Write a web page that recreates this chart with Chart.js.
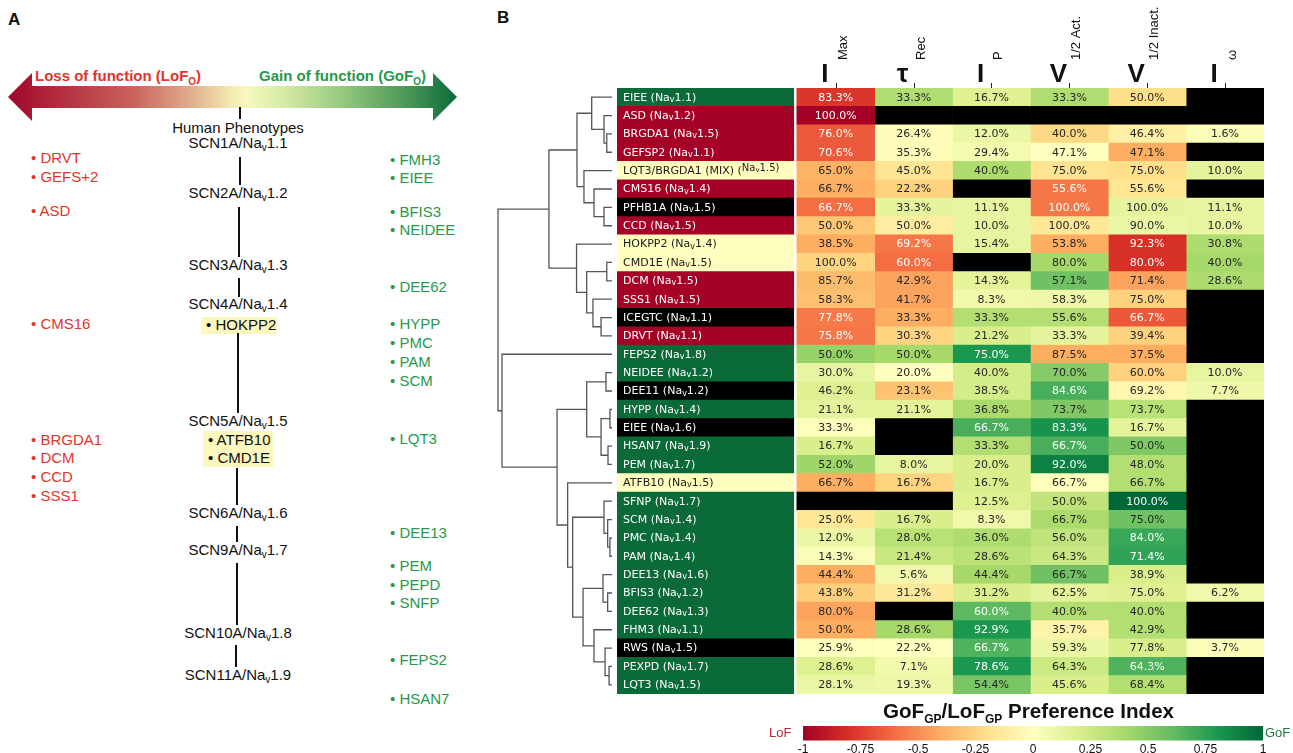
<!DOCTYPE html>
<html>
<head>
<meta charset="utf-8">
<script src="https://cdn.jsdelivr.net/npm/chart.js@4.4.0/dist/chart.umd.min.js"></script>
<style>
  body { margin: 0; background: #fff; width: 1293px; height: 753px; overflow: hidden; position: relative;
         font-family: "Liberation Sans", Arial, sans-serif; color: #111; }
  .t { position: absolute; font-size: 15px; line-height: 18px; height: 18px; white-space: nowrap; }
  .sv { font-size: 10px; position: relative; top: 3px; }
  .so { font-size: 10px; position: relative; top: 4px; }
  .loss { color: #e3342b; }
  .gain { color: #26994a; }
  .seg { position: absolute; width: 2px; background: #111; }
  .box { position: absolute; background: #fbf7bd; }
</style>
</head>
<body>

<div class="t" style="left:8px;top:11px;font-weight:bold;font-size:17px;">A</div>
<div class="t" style="left:497px;top:9px;font-weight:bold;font-size:17px;">B</div>

<div style="position:absolute;left:8px;top:73px;width:449px;height:48px;
  clip-path:polygon(0 24px,24px 0,24px 13px,425px 13px,425px 0,449px 24px,425px 48px,425px 35px,24px 35px,24px 48px);
  background:linear-gradient(to right,#a0062c 0%,#b3303f 12%,#c9645d 28%,#e0a98a 40%,#f3e5ad 49%,#f8f9bf 53%,#d3e9a4 62%,#98ca80 74%,#4f9a5b 88%,#0b6a3a 100%);"></div>
<div class="t loss" style="left:35px;top:67px;font-weight:bold;">Loss of function (LoF<span class="so">O</span>)</div>
<div class="t gain" style="left:259px;top:67px;font-weight:bold;">Gain of function (GoF<span class="so">O</span>)</div>
<div class="seg" style="left:239px;top:107px;height:12px;"></div>
<div class="t" style="left:138px;width:200px;text-align:center;top:119px;">Human Phenotypes</div>

<div class="box" style="left:201px;top:317px;width:76px;height:17px;"></div>
<div class="box" style="left:203px;top:431px;width:70px;height:36px;"></div>

<div style="position:absolute;left:490px;top:0;width:803px;height:700px;">
  <canvas id="heat" width="803" height="700" style="width:803px;height:700px;"></canvas>
</div>

<div class="t" style="left:883px;top:699px;font-size:20.6px;font-weight:bold;line-height:24px;height:24px;">GoF<span style="font-size:12px;position:relative;top:5px;">GP</span>/LoF<span style="font-size:12px;position:relative;top:5px;">GP</span> Preference Index</div>
<div class="t" style="left:769px;top:724px;font-size:13px;color:#c0282e;">LoF</div>
<div class="t" style="left:1265px;top:724px;font-size:13px;color:#1f7a3f;">GoF</div>
<div style="position:absolute;left:760px;top:713px;width:533px;height:42px;">
  <canvas id="cbar" width="533" height="42" style="width:533px;height:42px;"></canvas>
</div>

<script>
// ---- panel B data ----
const rowNames = ['EIEE', 'ASD', 'BRGDA1', 'GEFSP2', 'LQT3/BRGDA1 (MIX)', 'CMS16', 'PFHB1A', 'CCD',
  'HOKPP2', 'CMD1E', 'DCM', 'SSS1', 'ICEGTC', 'DRVT', 'FEPS2', 'NEIDEE', 'DEE11', 'HYPP', 'EIEE',
  'HSAN7', 'PEM', 'ATFB10', 'SFNP', 'SCM', 'PMC', 'PAM', 'DEE13', 'BFIS3', 'DEE62', 'FHM3', 'RWS',
  'PEXPD', 'LQT3'];
const rowChannels = ['1.1', '1.2', '1.5', '1.1', '1.5', '1.4', '1.5', '1.5', '1.4', '1.5', '1.5', '1.5',
  '1.1', '1.1', '1.8', '1.2', '1.2', '1.4', '1.6', '1.9', '1.7', '1.5', '1.7', '1.4', '1.4', '1.4',
  '1.6', '1.2', '1.3', '1.1', '1.5', '1.7', '1.5'];
// G = gain, L = loss, M = mixed, U = unclassified
const rowClass = ['G', 'L', 'L', 'L', 'M', 'L', 'U', 'L', 'M', 'M', 'L', 'L', 'U', 'L', 'G', 'G', 'U',
  'G', 'U', 'G', 'G', 'M', 'G', 'G', 'G', 'G', 'G', 'G', 'G', 'G', 'U', 'G', 'G'];

const headBig = ['I', 'τ', 'I', 'V', 'V', 'I'];
const headSub = ['Max', 'Rec', 'P', '1/2 Act.', '1/2 Inact.', 'ω'];

// percentages written in the cells (null = no data, black)
const pctImax = ['83.3', '100.0', '76.0', '70.6', '65.0', '66.7', '66.7', '50.0', '38.5', '100.0', '85.7',
  '58.3', '77.8', '75.8', '50.0', '30.0', '46.2', '21.1', '33.3', '16.7', '52.0', '66.7', null, '25.0',
  '12.0', '14.3', '44.4', '43.8', '80.0', '50.0', '25.9', '28.6', '28.1'];
const pctTrec = ['33.3', null, '26.4', '35.3', '45.0', '22.2', '33.3', '50.0', '69.2', '60.0', '42.9',
  '41.7', '33.3', '30.3', '50.0', '20.0', '23.1', '21.1', null, null, '8.0', '16.7', null, '16.7', '28.0',
  '21.4', '5.6', '31.2', null, '28.6', '22.2', '7.1', '19.3'];
const pctIp = ['16.7', null, '12.0', '29.4', '40.0', null, '11.1', '10.0', '15.4', null, '14.3', '8.3',
  '33.3', '21.2', '75.0', '40.0', '38.5', '36.8', '66.7', '33.3', '20.0', '16.7', '12.5', '8.3', '36.0',
  '28.6', '44.4', '31.2', '60.0', '92.9', '66.7', '78.6', '54.4'];
const pctVact = ['33.3', null, '40.0', '47.1', '75.0', '55.6', '100.0', '100.0', '53.8', '80.0', '57.1',
  '58.3', '55.6', '33.3', '87.5', '70.0', '84.6', '73.7', '83.3', '66.7', '92.0', '66.7', '50.0', '66.7',
  '56.0', '64.3', '66.7', '62.5', '40.0', '35.7', '59.3', '64.3', '45.6'];
const pctVinact = ['50.0', null, '46.4', '47.1', '75.0', '55.6', '100.0', '90.0', '92.3', '80.0', '71.4',
  '75.0', '66.7', '39.4', '37.5', '60.0', '69.2', '73.7', '16.7', '50.0', '48.0', '66.7', '100.0', '75.0',
  '84.0', '71.4', '38.9', '75.0', '40.0', '42.9', '77.8', '64.3', '68.4'];
const pctIw = [null, null, '1.6', null, '10.0', null, '11.1', '10.0', '30.8', '40.0', '28.6', null, null,
  null, null, '10.0', '7.7', null, null, null, null, null, null, null, null, null, null, '6.2', null,
  null, '3.7', null, null];

// GoF/LoF preference index per cell (-1 .. 1)
const idxImax = [-0.78, -1.0, -0.66, -0.66, -0.38, -0.4, -0.6, -0.3, -0.4, -0.25, -0.35, -0.33, -0.56,
  -0.57, 0.45, 0.12, 0.17, 0.14, 0.01, 0.2, 0.42, -0.4, null, -0.15, 0.1, 0.03, -0.4, -0.27, -0.43,
  -0.4, 0.01, 0.18, 0.1];
const idxTrec = [0.36, null, -0.02, -0.02, -0.17, -0.26, 0.14, -0.12, -0.57, -0.6, -0.43, -0.43, -0.4,
  -0.25, 0.4, 0.0, -0.32, 0.15, null, null, 0.12, -0.25, null, 0.2, 0.33, 0.26, 0.07, -0.14, null, 0.4,
  0.0, 0.07, 0.09];
const idxIp = [0.17, null, 0.1, 0.06, 0.37, null, 0.12, 0.12, 0.12, null, 0.14, 0.08, 0.35, 0.2, 0.8,
  0.22, 0.22, 0.38, 0.68, 0.35, 0.2, 0.2, 0.18, 0.08, 0.37, 0.32, 0.4, 0.2, 0.62, 0.8, 0.66, 0.8, 0.54];
const idxVact = [0.36, null, -0.23, 0.0, -0.18, -0.57, -0.57, -0.15, -0.4, 0.4, 0.57, 0.09, 0.35, 0.13,
  -0.4, 0.5, 0.68, 0.52, 0.82, 0.68, 0.9, 0.01, 0.3, 0.38, 0.3, 0.26, 0.57, 0.14, 0.35, -0.08, 0.1,
  0.25, 0.2];
const idxVinact = [-0.2, null, -0.1, -0.4, -0.2, -0.16, 0.13, 0.1, -0.8, -0.8, -0.43, -0.26, -0.67,
  -0.26, -0.4, -0.26, -0.06, 0.33, 0.14, 0.52, 0.35, 0.35, 1.0, 0.57, 0.72, 0.74, 0.2, 0.17, 0.35, 0.35,
  0.2, 0.66, 0.35];
const idxIw = [null, null, 0.03, null, 0.14, null, 0.12, 0.12, 0.37, 0.4, 0.37, null, null, null, null,
  0.12, 0.09, null, null, null, null, null, null, null, null, null, null, 0.07, null, null, 0.03, null,
  null];

// dendrogram: [left, right, height], leaves are row indices, root height = 1
const dendroTop = [[[0, [1, [2, 3, 0.046], 0.070], 0.178], [4, [5, [6, 7, 0.070], 0.158], 0.246], 0.307],
  [8, [[9, 10, 0.046], [11, [12, 13, 0.096], 0.167], 0.222], 0.311], 0.553];
const dendroBottom = [14, [[[15, 16, 0.053], [[17, 18, 0.018], [19, 20, 0.035], 0.096], 0.222],
  [21, [[22, [23, [24, 25, 0.018], 0.038], 0.070],
    [[26, [27, 28, 0.038], 0.079], [29, [30, [31, 32, 0.026], 0.061], 0.158], 0.254], 0.345], 0.389],
  0.482], 0.965];
const dendro = [dendroTop, dendroBottom, 1.0];

const cbarTicks = [-1, -0.75, -0.5, -0.25, 0, 0.25, 0.5, 0.75, 1];

// ---- panel A ----
const lossList = [['DRVT', 158], ['GEFS+2', 177], ['ASD', 211], ['CMS16', 324], ['BRGDA1', 440],
  ['DCM', 458], ['CCD', 477], ['SSS1', 496]];
const gainList = [['FMH3', 160], ['EIEE', 178], ['BFIS3', 212], ['NEIDEE', 230], ['DEE62', 287],
  ['HYPP', 324], ['PMC', 343], ['PAM', 362], ['SCM', 381], ['LQT3', 439], ['DEE13', 533], ['PEM', 566],
  ['PEPD', 585], ['SNFP', 603], ['FEPS2', 660], ['HSAN7', 699]];
const genes = [['SCN1A', '1.1', 143], ['SCN2A', '1.2', 193], ['SCN3A', '1.3', 265], ['SCN4A', '1.4', 304],
  ['SCN5A', '1.5', 421], ['SCN6A', '1.6', 513], ['SCN9A', '1.7', 550], ['SCN10A', '1.8', 633],
  ['SCN11A', '1.9', 675]];
const mixedList = [['HOKPP2', 206, 325], ['ATFB10', 208, 440], ['CMD1E', 208, 458]];
const segs = [[240, 157, 185], [239, 207, 257], [239, 278, 297], [238, 333, 413], [237, 468, 505],
  [237, 526, 542], [237, 563, 625], [236, 645, 667]];

function put(html, left, cy, cls, extra) {
  const d = document.createElement('div');
  d.className = 't ' + (cls || '');
  d.innerHTML = html;
  d.style.left = left + 'px';
  d.style.top = (cy - 9) + 'px';
  if (extra) Object.assign(d.style, extra);
  document.body.appendChild(d);
}
lossList.forEach(([n, y]) => put('• ' + n, 31, y, 'loss'));
gainList.forEach(([n, y]) => put('• ' + n, 390, y, 'gain'));
genes.forEach(([g, c, y]) => put(g + '/Na<span class="sv">v</span>' + c, 138, y, '', { width: '200px', textAlign: 'center' }));
mixedList.forEach(([n, x, y]) => put('• ' + n, x, y));
segs.forEach(([x, y0, y1]) => {
  const d = document.createElement('div');
  d.className = 'seg';
  d.style.left = (x - 1) + 'px';
  d.style.top = y0 + 'px';
  d.style.height = (y1 - y0) + 'px';
  document.body.appendChild(d);
});

// ---- colormap (RdYlGn) ----
const RDYLGN = ['#a50026', '#d73027', '#f46d43', '#fdae61', '#fee08b', '#ffffbf', '#d9ef8b', '#a6d96a',
  '#66bd63', '#1a9850', '#006837'];
function hexRgb(h) {
  return [parseInt(h.slice(1, 3), 16), parseInt(h.slice(3, 5), 16), parseInt(h.slice(5, 7), 16)];
}
function cmap(v) {
  const t = (v + 1) / 2 * 10;
  const i = Math.max(0, Math.min(9, Math.floor(t)));
  const f = t - i;
  const a = hexRgb(RDYLGN[i]), b = hexRgb(RDYLGN[i + 1]);
  return a.map((c, k) => Math.round(c + (b[k] - c) * f));
}
const rgb = c => `rgb(${c[0]},${c[1]},${c[2]})`;
function lum(c) {
  const l = c.map(x => { x /= 255; return x <= 0.03928 ? x / 12.92 : Math.pow((x + 0.055) / 1.055, 2.4); });
  return 0.2126 * l[0] + 0.7152 * l[1] + 0.0722 * l[2];
}

const idxCols = [idxImax, idxTrec, idxIp, idxVact, idxVinact, idxIw];
const pctCols = [pctImax, pctTrec, pctIp, pctVact, pctVinact, pctIw];
const classColor = { G: '#0a6a38', L: '#a50026', M: '#ffffbf', U: '#000000' };
const LABEL_X0 = -2.31, LABEL_X1 = -0.04;

const cellOpts = { barPercentage: 1, categoryPercentage: 1, grouped: false, borderWidth: 0, borderSkipped: false };

const extras = {
  id: 'extras',
  afterDatasetsDraw(chart) {
    const { ctx, chartArea, scales: { x, y } } = chart;
    ctx.save();

    // numbers in the cells
    ctx.font = '11px "DejaVu Sans"';
    ctx.textAlign = 'center';
    ctx.textBaseline = 'middle';
    idxCols.forEach((col, j) => {
      const cx = x.getPixelForValue(j + 0.5);
      col.forEach((v, i) => {
        const p = pctCols[j][i];
        if (v == null || p == null) return;
        ctx.fillStyle = lum(cmap(v)) < 0.408 ? '#ffffff' : '#262626';
        ctx.fillText(p + '%', cx, y.getPixelForValue(i) + 0.5);
      });
    });

    // row labels
    ctx.textAlign = 'left';
    rowNames.forEach((n, i) => {
      const yy = y.getPixelForValue(i) + 0.5;
      let xx = x.getPixelForValue(LABEL_X0) + 6;
      ctx.fillStyle = rowClass[i] === 'M' ? '#1a1a1a' : '#ffffff';
      ctx.font = '11px "DejaVu Sans"';
      const head = n + ' (';
      const full = ctx.measureText(head + 'Na' + rowChannels[i] + ')').width;
      const small = full > 150;
      ctx.fillText(head, xx, yy);
      xx += ctx.measureText(head).width;
      const big = small ? '10px "DejaVu Sans"' : '11px "DejaVu Sans"';
      const dy = small ? -3 : 0;
      ctx.font = big;
      ctx.fillText('Na', xx, yy + dy);
      xx += ctx.measureText('Na').width;
      ctx.font = small ? '7px "DejaVu Sans"' : '8px "DejaVu Sans"';
      ctx.fillText('v', xx, yy + dy + 2);
      xx += ctx.measureText('v').width;
      ctx.font = big;
      ctx.fillText(rowChannels[i] + ')', xx, yy + dy);
    });

    // dendrogram
    const leafX = chartArea.left - 5;
    const span = 114;
    ctx.strokeStyle = '#555';
    ctx.lineWidth = 1.3;
    const node = n => {
      if (typeof n === 'number') return { x: leafX, y: y.getPixelForValue(n) };
      const a = node(n[0]), b = node(n[1]);
      const xx = leafX - n[2] * span;
      ctx.beginPath();
      ctx.moveTo(a.x, a.y);
      ctx.lineTo(xx, a.y);
      ctx.lineTo(xx, b.y);
      ctx.lineTo(b.x, b.y);
      ctx.stroke();
      return { x: xx, y: (a.y + b.y) / 2 };
    };
    node(dendro);

    // column headers
    headBig.forEach((b, j) => {
      const cx = x.getPixelForValue(j + 0.5);
      ctx.strokeStyle = '#222';
      ctx.lineWidth = 1;
      ctx.beginPath();
      ctx.moveTo(Math.round(cx) + 0.5, chartArea.top - 5);
      ctx.lineTo(Math.round(cx) + 0.5, chartArea.top);
      ctx.stroke();
      ctx.fillStyle = '#111';
      ctx.font = 'bold 26px "Liberation Sans"';
      ctx.textAlign = 'center';
      ctx.textBaseline = 'alphabetic';
      ctx.fillText(b, cx - 11, chartArea.top - 6);
      ctx.save();
      ctx.translate(cx + 11, chartArea.top - 28);
      ctx.rotate(-Math.PI / 2);
      ctx.font = '13px "Liberation Sans"';
      ctx.textAlign = 'left';
      ctx.fillText(headSub[j], 0, 0);
      ctx.restore();
    });
    ctx.restore();
  }
};

new Chart(document.getElementById('heat'), {
  type: 'bar',
  data: {
    labels: rowNames.map((n, i) => n + ' ' + rowChannels[i]),
    datasets: [
      { data: rowNames.map(() => [LABEL_X0, LABEL_X1]), backgroundColor: rowClass.map(c => classColor[c]), ...cellOpts },
      ...idxCols.map((col, j) => ({
        data: col.map(() => [j, j + 1]),
        backgroundColor: col.map(v => v == null ? '#000000' : rgb(cmap(v))),
        ...cellOpts
      }))
    ]
  },
  options: {
    indexAxis: 'y',
    responsive: false,
    animation: false,
    layout: { padding: { left: 127, right: 29, top: 88, bottom: 6 } },
    plugins: { legend: { display: false }, tooltip: { enabled: false } },
    scales: {
      x: { type: 'linear', min: LABEL_X0, max: 6, display: false },
      y: { type: 'category', display: false, offset: true }
    }
  },
  plugins: [extras]
});

// ---- colour bar ----
const gradientBar = {
  id: 'gradientBar',
  beforeDatasetsDraw(chart) {
    const { ctx, chartArea: a } = chart;
    const g = ctx.createLinearGradient(a.left, 0, a.right, 0);
    RDYLGN.forEach((c, i) => g.addColorStop(i / (RDYLGN.length - 1), c));
    ctx.save();
    ctx.fillStyle = g;
    ctx.fillRect(a.left, a.top, a.right - a.left, a.bottom - a.top);
    ctx.restore();
  }
};

new Chart(document.getElementById('cbar'), {
  type: 'scatter',
  data: { datasets: [] },
  options: {
    responsive: false,
    animation: false,
    layout: { padding: { left: 43, right: 30, top: 13, bottom: 0 } },
    plugins: { legend: { display: false }, tooltip: { enabled: false } },
    scales: {
      x: {
        type: 'linear', min: -1, max: 1,
        afterBuildTicks: ax => { ax.ticks = cbarTicks.map(v => ({ value: v })); },
        grid: { display: false, drawTicks: false },
        border: { display: false },
        ticks: { padding: 2, autoSkip: false, maxRotation: 0, color: '#111',
                 font: { family: 'Liberation Sans', size: 12 }, callback: v => String(v) }
      },
      y: { display: false }
    }
  },
  plugins: [gradientBar]
});
</script>
</body>
</html>
